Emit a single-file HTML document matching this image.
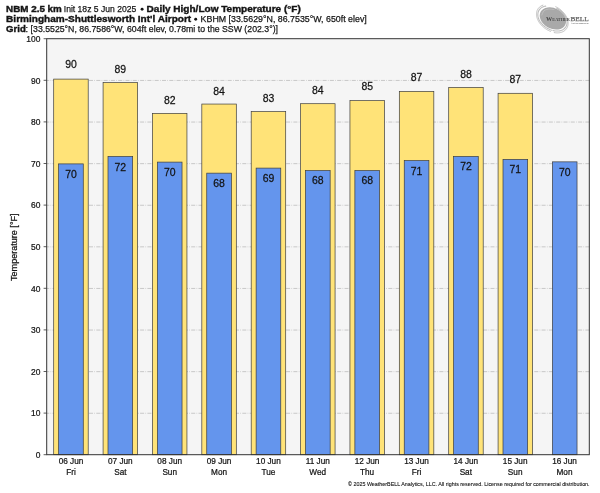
<!DOCTYPE html>
<html><head><meta charset="utf-8"><title>NBM Daily High/Low Temperature</title>
<style>html,body{margin:0;padding:0;background:#fff;}body{width:600px;height:493px;overflow:hidden;}svg{display:block;will-change:transform;}text{font-family:"Liberation Sans",sans-serif;fill:#141414;stroke:#141414;stroke-width:0.25px;}text[font-weight=bold]{stroke-width:0.4px;}</style>
</head><body>
<svg width="600" height="493" viewBox="0 0 600 493">
<rect x="0" y="0" width="600" height="493" fill="#ffffff"/>
<rect x="46.70" y="38.70" width="542.90" height="416.00" fill="#f5f5f5"/>
<line x1="46.70" y1="413.25" x2="589.60" y2="413.25" stroke="#bcbcbc" stroke-width="0.8" stroke-dasharray="4.0 1.3 0.7 1.3" stroke-dashoffset="1.5"/>
<line x1="46.70" y1="371.65" x2="589.60" y2="371.65" stroke="#bcbcbc" stroke-width="0.8" stroke-dasharray="4.0 1.3 0.7 1.3" stroke-dashoffset="1.5"/>
<line x1="46.70" y1="330.05" x2="589.60" y2="330.05" stroke="#bcbcbc" stroke-width="0.8" stroke-dasharray="4.0 1.3 0.7 1.3" stroke-dashoffset="1.5"/>
<line x1="46.70" y1="288.45" x2="589.60" y2="288.45" stroke="#bcbcbc" stroke-width="0.8" stroke-dasharray="4.0 1.3 0.7 1.3" stroke-dashoffset="1.5"/>
<line x1="46.70" y1="246.85" x2="589.60" y2="246.85" stroke="#bcbcbc" stroke-width="0.8" stroke-dasharray="4.0 1.3 0.7 1.3" stroke-dashoffset="1.5"/>
<line x1="46.70" y1="205.25" x2="589.60" y2="205.25" stroke="#bcbcbc" stroke-width="0.8" stroke-dasharray="4.0 1.3 0.7 1.3" stroke-dashoffset="1.5"/>
<line x1="46.70" y1="163.65" x2="589.60" y2="163.65" stroke="#bcbcbc" stroke-width="0.8" stroke-dasharray="4.0 1.3 0.7 1.3" stroke-dashoffset="1.5"/>
<line x1="46.70" y1="122.05" x2="589.60" y2="122.05" stroke="#bcbcbc" stroke-width="0.8" stroke-dasharray="4.0 1.3 0.7 1.3" stroke-dashoffset="1.5"/>
<line x1="46.70" y1="80.45" x2="589.60" y2="80.45" stroke="#bcbcbc" stroke-width="0.8" stroke-dasharray="4.0 1.3 0.7 1.3" stroke-dashoffset="1.5"/>
<rect x="53.70" y="79.10" width="34.50" height="375.60" fill="#ffe378" stroke="#3c3c3c" stroke-width="0.7"/>
<rect x="103.08" y="82.60" width="34.50" height="372.10" fill="#ffe378" stroke="#3c3c3c" stroke-width="0.7"/>
<rect x="152.45" y="113.40" width="34.50" height="341.30" fill="#ffe378" stroke="#3c3c3c" stroke-width="0.7"/>
<rect x="201.82" y="104.05" width="34.50" height="350.65" fill="#ffe378" stroke="#3c3c3c" stroke-width="0.7"/>
<rect x="251.20" y="111.60" width="34.50" height="343.10" fill="#ffe378" stroke="#3c3c3c" stroke-width="0.7"/>
<rect x="300.57" y="103.70" width="34.50" height="351.00" fill="#ffe378" stroke="#3c3c3c" stroke-width="0.7"/>
<rect x="349.95" y="100.60" width="34.50" height="354.10" fill="#ffe378" stroke="#3c3c3c" stroke-width="0.7"/>
<rect x="399.32" y="91.40" width="34.50" height="363.30" fill="#ffe378" stroke="#3c3c3c" stroke-width="0.7"/>
<rect x="448.70" y="87.40" width="34.50" height="367.30" fill="#ffe378" stroke="#3c3c3c" stroke-width="0.7"/>
<rect x="498.08" y="93.30" width="34.50" height="361.40" fill="#ffe378" stroke="#3c3c3c" stroke-width="0.7"/>
<rect x="58.62" y="163.90" width="24.65" height="290.80" fill="#6495ed" stroke="#3c3c3c" stroke-width="0.7"/>
<rect x="108.00" y="156.45" width="24.65" height="298.25" fill="#6495ed" stroke="#3c3c3c" stroke-width="0.7"/>
<rect x="157.38" y="162.10" width="24.65" height="292.60" fill="#6495ed" stroke="#3c3c3c" stroke-width="0.7"/>
<rect x="206.75" y="173.15" width="24.65" height="281.55" fill="#6495ed" stroke="#3c3c3c" stroke-width="0.7"/>
<rect x="256.12" y="168.10" width="24.65" height="286.60" fill="#6495ed" stroke="#3c3c3c" stroke-width="0.7"/>
<rect x="305.50" y="170.55" width="24.65" height="284.15" fill="#6495ed" stroke="#3c3c3c" stroke-width="0.7"/>
<rect x="354.88" y="170.55" width="24.65" height="284.15" fill="#6495ed" stroke="#3c3c3c" stroke-width="0.7"/>
<rect x="404.25" y="160.60" width="24.65" height="294.10" fill="#6495ed" stroke="#3c3c3c" stroke-width="0.7"/>
<rect x="453.62" y="156.45" width="24.65" height="298.25" fill="#6495ed" stroke="#3c3c3c" stroke-width="0.7"/>
<rect x="503.00" y="159.35" width="24.65" height="295.35" fill="#6495ed" stroke="#3c3c3c" stroke-width="0.7"/>
<rect x="552.38" y="161.85" width="24.65" height="292.85" fill="#6495ed" stroke="#3c3c3c" stroke-width="0.7"/>
<text transform="translate(70.95,68.40) scale(0.935,1)" font-size="11.2" text-anchor="middle">90</text>
<text transform="translate(120.33,72.70) scale(0.935,1)" font-size="11.2" text-anchor="middle">89</text>
<text transform="translate(169.70,103.80) scale(0.935,1)" font-size="11.2" text-anchor="middle">82</text>
<text transform="translate(219.07,94.90) scale(0.935,1)" font-size="11.2" text-anchor="middle">84</text>
<text transform="translate(268.45,102.00) scale(0.935,1)" font-size="11.2" text-anchor="middle">83</text>
<text transform="translate(317.82,93.90) scale(0.935,1)" font-size="11.2" text-anchor="middle">84</text>
<text transform="translate(367.20,89.80) scale(0.935,1)" font-size="11.2" text-anchor="middle">85</text>
<text transform="translate(416.57,81.00) scale(0.935,1)" font-size="11.2" text-anchor="middle">87</text>
<text transform="translate(465.95,77.70) scale(0.935,1)" font-size="11.2" text-anchor="middle">88</text>
<text transform="translate(515.33,82.90) scale(0.935,1)" font-size="11.2" text-anchor="middle">87</text>
<text transform="translate(70.95,178.10) scale(0.935,1)" font-size="11.2" text-anchor="middle">70</text>
<text transform="translate(120.33,170.60) scale(0.935,1)" font-size="11.2" text-anchor="middle">72</text>
<text transform="translate(169.70,176.00) scale(0.935,1)" font-size="11.2" text-anchor="middle">70</text>
<text transform="translate(219.07,186.60) scale(0.935,1)" font-size="11.2" text-anchor="middle">68</text>
<text transform="translate(268.45,182.20) scale(0.935,1)" font-size="11.2" text-anchor="middle">69</text>
<text transform="translate(317.82,184.30) scale(0.935,1)" font-size="11.2" text-anchor="middle">68</text>
<text transform="translate(367.20,184.20) scale(0.935,1)" font-size="11.2" text-anchor="middle">68</text>
<text transform="translate(416.57,175.10) scale(0.935,1)" font-size="11.2" text-anchor="middle">71</text>
<text transform="translate(465.95,170.40) scale(0.935,1)" font-size="11.2" text-anchor="middle">72</text>
<text transform="translate(515.33,172.60) scale(0.935,1)" font-size="11.2" text-anchor="middle">71</text>
<text transform="translate(564.70,176.00) scale(0.935,1)" font-size="11.2" text-anchor="middle">70</text>
<rect x="46.70" y="38.70" width="542.60" height="416.00" fill="none" stroke="#333333" stroke-width="1"/>
<line x1="43.60" y1="454.70" x2="46.70" y2="454.70" stroke="#333333" stroke-width="0.8"/>
<text transform="translate(40.40,457.95) scale(0.93,1)" font-size="9.1" text-anchor="end">0</text>
<line x1="43.60" y1="413.10" x2="46.70" y2="413.10" stroke="#333333" stroke-width="0.8"/>
<text transform="translate(40.40,416.35) scale(0.93,1)" font-size="9.1" text-anchor="end">10</text>
<line x1="43.60" y1="371.50" x2="46.70" y2="371.50" stroke="#333333" stroke-width="0.8"/>
<text transform="translate(40.40,374.75) scale(0.93,1)" font-size="9.1" text-anchor="end">20</text>
<line x1="43.60" y1="329.90" x2="46.70" y2="329.90" stroke="#333333" stroke-width="0.8"/>
<text transform="translate(40.40,333.15) scale(0.93,1)" font-size="9.1" text-anchor="end">30</text>
<line x1="43.60" y1="288.30" x2="46.70" y2="288.30" stroke="#333333" stroke-width="0.8"/>
<text transform="translate(40.40,291.55) scale(0.93,1)" font-size="9.1" text-anchor="end">40</text>
<line x1="43.60" y1="246.70" x2="46.70" y2="246.70" stroke="#333333" stroke-width="0.8"/>
<text transform="translate(40.40,249.95) scale(0.93,1)" font-size="9.1" text-anchor="end">50</text>
<line x1="43.60" y1="205.10" x2="46.70" y2="205.10" stroke="#333333" stroke-width="0.8"/>
<text transform="translate(40.40,208.35) scale(0.93,1)" font-size="9.1" text-anchor="end">60</text>
<line x1="43.60" y1="163.50" x2="46.70" y2="163.50" stroke="#333333" stroke-width="0.8"/>
<text transform="translate(40.40,166.75) scale(0.93,1)" font-size="9.1" text-anchor="end">70</text>
<line x1="43.60" y1="121.90" x2="46.70" y2="121.90" stroke="#333333" stroke-width="0.8"/>
<text transform="translate(40.40,125.15) scale(0.93,1)" font-size="9.1" text-anchor="end">80</text>
<line x1="43.60" y1="80.30" x2="46.70" y2="80.30" stroke="#333333" stroke-width="0.8"/>
<text transform="translate(40.40,83.55) scale(0.93,1)" font-size="9.1" text-anchor="end">90</text>
<line x1="43.60" y1="38.70" x2="46.70" y2="38.70" stroke="#333333" stroke-width="0.8"/>
<text transform="translate(40.40,41.95) scale(0.93,1)" font-size="9.1" text-anchor="end">100</text>
<text transform="translate(70.98,464.20) scale(0.885,1)" font-size="9.3" text-anchor="middle">06 Jun</text>
<text transform="translate(70.98,474.70) scale(0.885,1)" font-size="9.3" text-anchor="middle">Fri</text>
<text transform="translate(120.33,464.20) scale(0.885,1)" font-size="9.3" text-anchor="middle">07 Jun</text>
<text transform="translate(120.33,474.70) scale(0.885,1)" font-size="9.3" text-anchor="middle">Sat</text>
<text transform="translate(169.69,464.20) scale(0.885,1)" font-size="9.3" text-anchor="middle">08 Jun</text>
<text transform="translate(169.69,474.70) scale(0.885,1)" font-size="9.3" text-anchor="middle">Sun</text>
<text transform="translate(219.04,464.20) scale(0.885,1)" font-size="9.3" text-anchor="middle">09 Jun</text>
<text transform="translate(219.04,474.70) scale(0.885,1)" font-size="9.3" text-anchor="middle">Mon</text>
<text transform="translate(268.40,464.20) scale(0.885,1)" font-size="9.3" text-anchor="middle">10 Jun</text>
<text transform="translate(268.40,474.70) scale(0.885,1)" font-size="9.3" text-anchor="middle">Tue</text>
<text transform="translate(317.75,464.20) scale(0.885,1)" font-size="9.3" text-anchor="middle">11 Jun</text>
<text transform="translate(317.75,474.70) scale(0.885,1)" font-size="9.3" text-anchor="middle">Wed</text>
<text transform="translate(367.10,464.20) scale(0.885,1)" font-size="9.3" text-anchor="middle">12 Jun</text>
<text transform="translate(367.10,474.70) scale(0.885,1)" font-size="9.3" text-anchor="middle">Thu</text>
<text transform="translate(416.46,464.20) scale(0.885,1)" font-size="9.3" text-anchor="middle">13 Jun</text>
<text transform="translate(416.46,474.70) scale(0.885,1)" font-size="9.3" text-anchor="middle">Fri</text>
<text transform="translate(465.81,464.20) scale(0.885,1)" font-size="9.3" text-anchor="middle">14 Jun</text>
<text transform="translate(465.81,474.70) scale(0.885,1)" font-size="9.3" text-anchor="middle">Sat</text>
<text transform="translate(515.17,464.20) scale(0.885,1)" font-size="9.3" text-anchor="middle">15 Jun</text>
<text transform="translate(515.17,474.70) scale(0.885,1)" font-size="9.3" text-anchor="middle">Sun</text>
<text transform="translate(564.52,464.20) scale(0.885,1)" font-size="9.3" text-anchor="middle">16 Jun</text>
<text transform="translate(564.52,474.70) scale(0.885,1)" font-size="9.3" text-anchor="middle">Mon</text>
<text transform="translate(17.4,247.20) rotate(-90)" font-size="9.3" text-anchor="middle" textLength="67.5" lengthAdjust="spacingAndGlyphs">Temperature [&#176;F]</text>
<text x="6.10" y="12.20" font-size="9.60" font-weight="bold" textLength="55.70" lengthAdjust="spacingAndGlyphs">NBM 2.5 km</text>
<text x="63.80" y="12.20" font-size="9.80" textLength="72.40" lengthAdjust="spacingAndGlyphs">Init 18z 5 Jun 2025</text>
<circle cx="142.1" cy="9.2" r="1.45" fill="#141414"/>
<text x="146.60" y="12.20" font-size="9.60" font-weight="bold" textLength="154.20" lengthAdjust="spacingAndGlyphs">Daily High/Low Temperature (&#176;F)</text>
<text x="6.10" y="22.30" font-size="9.60" font-weight="bold" textLength="185.10" lengthAdjust="spacingAndGlyphs">Birmingham-Shuttlesworth Int'l Airport</text>
<circle cx="195.7" cy="19.3" r="1.45" fill="#141414"/>
<text x="200.60" y="22.30" font-size="9.80" textLength="166.20" lengthAdjust="spacingAndGlyphs">KBHM [33.5629&#176;N, 86.7535&#176;W, 650ft elev]</text>
<text x="6.10" y="32.45" font-size="9.60" font-weight="bold" textLength="19.70" lengthAdjust="spacingAndGlyphs">Grid</text>
<text x="25.60" y="32.45" font-size="9.80" textLength="2.60" lengthAdjust="spacingAndGlyphs">:</text>
<text x="30.60" y="32.45" font-size="9.80" textLength="247.40" lengthAdjust="spacingAndGlyphs">[33.5525&#176;N, 86.7586&#176;W, 604ft elev, 0.78mi to the SSW (202.3&#176;)]</text>
<text x="348.0" y="486.4" font-size="5.8" textLength="241.6" lengthAdjust="spacingAndGlyphs" style="stroke-width:0.1px">&#169; 2025 WeatherBELL Analytics, LLC. All rights reserved. License required for commercial distribution.</text>
<g id="logo">
<path d="M542.92 5.20 L541.96 5.57 L541.05 6.04 L540.18 6.60 L539.38 7.25 L538.66 7.99 L538.03 8.81 L537.51 9.70 L537.10 10.65 L536.79 11.64 L536.60 12.65 L536.50 13.67 L536.51 14.69 L536.60 15.70 L536.77 16.68 L537.00 17.63 L537.29 18.55 L537.63 19.43 L538.01 20.27 L538.42 21.07 L538.86 21.83 L539.32 22.55 L539.80 23.24 L540.30 23.89 L540.80 24.51 L541.32 25.10 L541.85 25.66 L542.39 26.20 L542.94 26.71 L543.50 27.20 L544.06 27.67 L544.64 28.12 L545.23 28.54 L545.83 28.96 L546.45 29.35 L547.08 29.73 L547.73 30.09 L548.39 30.43 L549.08 30.76 L549.78 31.07 L550.51 31.36" fill="none" stroke="#c2c2c2" stroke-width="1.0" stroke-linecap="round" stroke-linejoin="round"/>
<path d="M545.76 6.09 L544.80 6.28 L543.85 6.55 L542.91 6.91 L542.00 7.36 L541.15 7.91 L540.37 8.56 L539.67 9.31 L539.07 10.13 L538.59 11.03 L538.23 11.99 L537.98 12.98 L537.86 13.99 L537.85 15.00 L537.94 16.00 L538.12 16.97 L538.37 17.91 L538.69 18.82 L539.06 19.68 L539.47 20.49 L539.91 21.26 L540.38 21.99 L540.88 22.67 L541.39 23.32 L541.91 23.92 L542.45 24.50 L543.00 25.04 L543.55 25.55 L544.12 26.03 L544.69 26.49 L545.27 26.92 L545.87 27.34 L546.47 27.73 L547.09 28.10 L547.72 28.45 L548.36 28.79 L549.03 29.10 L549.71 29.40 L550.41 29.67 L551.14 29.93 L551.89 30.16" fill="none" stroke="#bdbdbd" stroke-width="1.1" stroke-linecap="round" stroke-linejoin="round"/>
<path d="M555.76 6.75 L556.53 7.13 L557.27 7.53 L557.99 7.95 L558.70 8.40 L559.38 8.87 L560.06 9.36 L560.71 9.87 L561.35 10.42 L561.98 10.99 L562.60 11.59 L563.21 12.22 L563.80 12.89 L564.37 13.60 L564.93 14.35 L565.47 15.15 L565.98 15.99 L566.46 16.88 L566.91 17.83 L567.30 18.83 L567.63 19.87 L567.88 20.96 L568.04 22.09 L568.10 23.24 L568.05 24.41 L567.86 25.56 L567.53 26.69 L567.05 27.77 L566.44 28.77 L565.69 29.68 L564.83 30.48 L563.87 31.17 L562.85 31.73 L561.77 32.17 L560.66 32.50 L559.55 32.72 L558.44 32.84 L557.34 32.88 L556.28 32.85 L555.24 32.75 L554.24 32.60" fill="none" stroke="#c2c2c2" stroke-width="1.0" stroke-linecap="round" stroke-linejoin="round"/>
<path d="M556.75 8.32 L557.42 8.68 L558.07 9.05 L558.70 9.45 L559.33 9.86 L559.94 10.30 L560.54 10.77 L561.13 11.26 L561.71 11.78 L562.28 12.33 L562.85 12.92 L563.39 13.54 L563.93 14.21 L564.44 14.91 L564.94 15.66 L565.40 16.46 L565.83 17.30 L566.22 18.20 L566.54 19.14 L566.80 20.12 L566.98 21.14 L567.05 22.18 L567.02 23.23 L566.87 24.28 L566.58 25.30 L566.16 26.27 L565.62 27.18 L564.96 28.01 L564.19 28.75 L563.34 29.37 L562.42 29.90 L561.46 30.31 L560.47 30.63 L559.47 30.85 L558.48 30.99 L557.51 31.06 L556.55 31.06 L555.62 31.00 L554.72 30.90 L553.86 30.76 L553.02 30.57" fill="none" stroke="#bdbdbd" stroke-width="1.1" stroke-linecap="round" stroke-linejoin="round"/>
<ellipse cx="552.9" cy="18.4" rx="13.9" ry="10.2" transform="rotate(28 552.9 18.4)" fill="#a9a9a9"/>
<path d="M541.90 15.03 C542.20 14.36 542.69 11.97 543.73 11.00 C544.77 10.02 546.42 9.41 548.13 9.16 C549.84 8.92 553.02 9.47 553.99 9.53" fill="none" stroke="#c4c4c4" stroke-width="0.7" stroke-linecap="round"/>
<text x="546.0" y="20.7" font-size="6.4" font-weight="bold" textLength="6.2" lengthAdjust="spacingAndGlyphs" style="font-family:'Liberation Serif',serif;fill:#484848;stroke:none">W</text>
<text x="552.3" y="20.7" font-size="4.6" font-weight="bold" textLength="17.6" lengthAdjust="spacingAndGlyphs" style="font-family:'Liberation Serif',serif;fill:#484848;stroke:none">EATHER</text>
<text x="570.4" y="20.8" font-size="6.7" textLength="18.2" lengthAdjust="spacingAndGlyphs" style="font-family:'Liberation Serif',serif;fill:#666;stroke:#666;stroke-width:0.25px">BELL</text>
<text x="571.0" y="23.5" font-size="2.0" textLength="17.4" lengthAdjust="spacingAndGlyphs" style="font-family:'Liberation Serif',serif;fill:#808080;stroke:#808080;stroke-width:0.1px">ANALYTICS LLC</text>
</g>
</svg>
</body></html>
